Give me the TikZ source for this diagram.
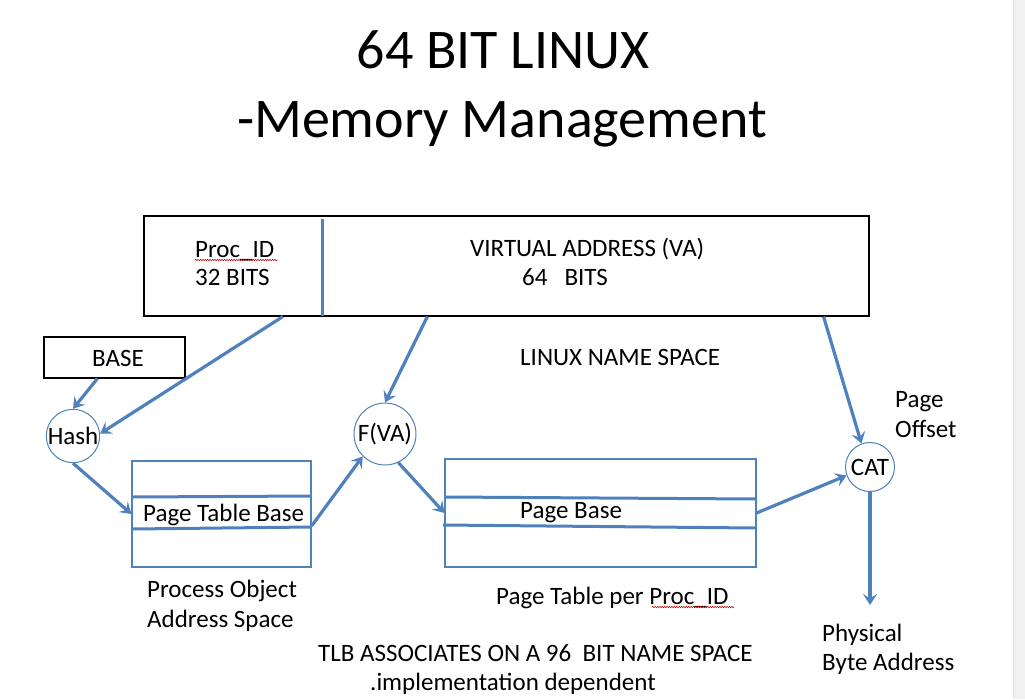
\documentclass[tikz,border=0pt]{standalone}
\usepackage{fontspec}
\setmainfont{Carlito}
\usetikzlibrary{calc}
\usetikzlibrary{arrows.meta}
\usetikzlibrary{decorations.pathmorphing}
\definecolor{ppblue}{HTML}{4F81BD}
\tikzstyle{link}=[ppblue,line width=3.2,-{Stealth[length=11,width=14,inset=4.5]}]
\tikzstyle{blk}=[draw=black,line width=1.1,inner sep=0]
\tikzstyle{tbl}=[draw=ppblue,line width=1.1,inner sep=0]
\tikzstyle{row}=[ppblue,line width=3]
\tikzstyle{op}=[circle,draw=ppblue,line width=1,fill=white,inner sep=0]
\tikzstyle{lbl}=[font=\fontsize{25}{29}\selectfont,inner sep=0,align=left]
\tikzstyle{squig}=[red!75!black,line width=0.5,decorate,decoration={snake,amplitude=0.8,segment length=2.4}]

\begin{document}
\begin{tikzpicture}[x=1pt,y=-1pt]
  \useasboundingbox (0,0) rectangle (1025,699);
  % window edge
  \fill[black!6] (1013,0) rectangle (1025,699);
  \draw[black!12] (1013,0) -- (1013,699);

  % TITLE
  \node[font=\fontsize{56}{69}\selectfont,inner sep=0,anchor=base] (title1) at (503,68) {64 BIT LINUX};
  \node[font=\fontsize{56}{69}\selectfont,inner sep=0,anchor=base] (title2) at (502,137) {-Memory Management};

  % ADDRESS WORD
  \node[blk,minimum width=725,minimum height=100] (addr) at (506.5,266) {};
  \draw[row] (322,219) -- (322,316);
  \node[lbl,anchor=base west,font=\fontsize{25}{28}\selectfont] (pid) at (195,285) {Proc\_ID\\32 BITS};
  \draw[squig] (195,260) -- (278,260);
  \node[lbl,anchor=base west] (va) at (470,256) {VIRTUAL ADDRESS (VA)};
  \node[lbl,anchor=base west] (vabits) at (522,285) {64\ \ \ BITS};

  % BOXES & OPERATORS
  \node[blk,minimum width=141,minimum height=41] (base) at (114.5,357.5) {};
  \node[lbl,anchor=base] at (118,366) {BASE};
  \node[lbl,anchor=base west] (ns) at (520,365) {LINUX NAME SPACE};
  \node[op,minimum size=48,font=\fontsize{25}{29}\selectfont] (hash) at (73,436) {Hash};
  \node[op,minimum size=62,font=\fontsize{25}{29}\selectfont] (fva) at (385,434) {F(VA)};
  \node[op,minimum size=49,font=\fontsize{25}{29}\selectfont] (cat) at (870,467) {CAT};
  \node[lbl,anchor=base west,font=\fontsize{25}{30}\selectfont] (offset) at (895,437) {Page\\Offset};

  % TABLES
  \node[tbl,minimum width=179,minimum height=106] (ptb) at (221.5,514) {};
  \draw[row] (132,497) -- (311,496);
  \draw[row] (132,529) -- (311,527);
  \node[lbl,anchor=base west] (ptbtext) at (143,521) {Page Table Base};
  \node[lbl,anchor=base west,font=\fontsize{25}{30}\selectfont] (pos) at (147,627) {Process Object\\Address Space};

  \node[tbl,minimum width=311,minimum height=108] (pt) at (600.5,513) {};
  \draw[row] (445,497) -- (756,499);
  \draw[row] (443,525) -- (756,528);
  \node[lbl,anchor=base west] (pbtext) at (520,518) {Page Base};
  \node[lbl,anchor=base west] (ptp) at (496,604) {Page Table per Proc\_ID};
  \draw[squig] (652,607) -- (734,607);

  \node[lbl,anchor=base west] (tlb) at (318,661) {TLB ASSOCIATES ON A 96\ \ BIT NAME SPACE};
  \node[lbl,anchor=base west] (impl) at (370,690) {.implementation dependent};
  \node[lbl,anchor=base west] (phys) at (822,670) {Physical\\Byte Address};

  % ARROWS
  \coordinate (physend) at (870,605);
  \draw[link] ($(addr.south west)!0.192!(addr.south east)$) -- (hash.5);
  \draw[link] ($(base.south west)!0.38!(base.south east)$) -- (hash.north);
  \draw[link] (hash.south) -- (ptb.west);
  \draw[link] ($(ptb.east)+(0,12)$) -- (fva.225);
  \draw[link] ($(addr.south west)!0.391!(addr.south east)$) -- (fva.north);
  \draw[link] (fva.-65) -- (pt.west);
  \draw[link] (pt.east) -- (cat.200);
  \draw[link] ($(addr.south west)!0.9366!(addr.south east)$) -- (cat.110);
  \draw[link] (cat.south) -- (physend);
\end{tikzpicture}
\end{document}
